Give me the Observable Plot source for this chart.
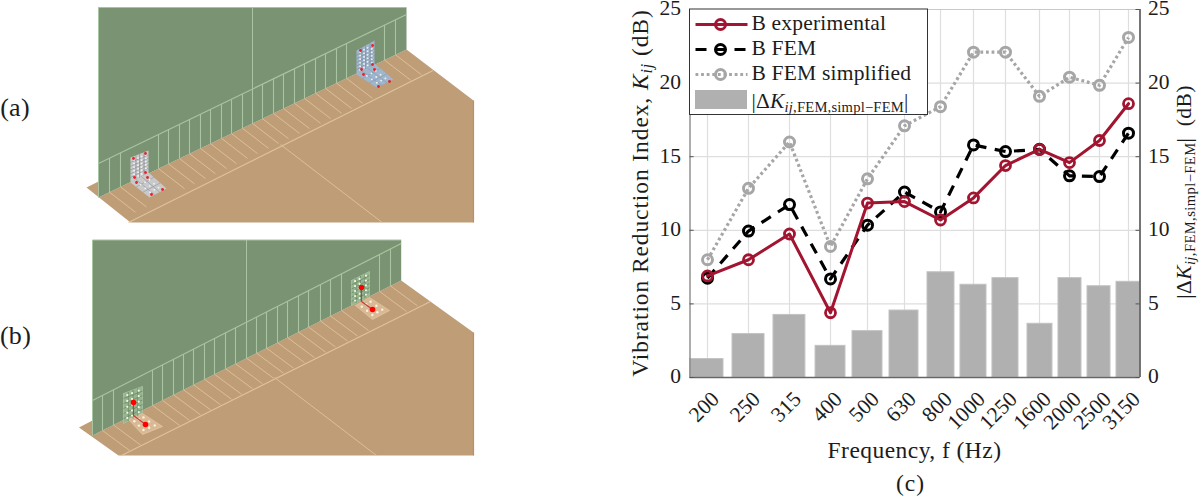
<!DOCTYPE html>
<html><head><meta charset="utf-8">
<script src="https://cdn.jsdelivr.net/npm/d3@7"></script>
<script src="https://cdn.jsdelivr.net/npm/@observablehq/plot@0.6"></script>
<style>
html,body{margin:0;padding:0;background:#fff}
#wrap{position:relative;width:1200px;height:498px;overflow:hidden}
#wrap svg{position:absolute;left:0;top:0;background:transparent;max-width:none}
</style></head><body><div id="wrap"></div>
<script>
// ---- chart data
const frequencies = [200,250,315,400,500,630,800,1000,1250,1600,2000,2500,3150];
const experimental = [6.9,8.0,9.75,4.4,11.85,11.95,10.7,12.2,14.4,15.5,14.6,16.1,18.6];
const fem = [6.75,9.95,11.75,6.7,10.35,12.6,11.25,15.8,15.35,15.5,13.7,13.65,16.6];
const simplified = [8.0,12.85,16.0,8.9,13.5,17.1,18.4,22.1,22.1,19.1,20.4,19.85,23.1];
const delta = [1.25,2.95,4.25,2.15,3.15,4.55,7.15,6.3,6.75,3.65,6.75,6.2,6.5];
const barLow = [179,230.5,289.6,369,459.5,577.3,738.6,921,1148,1476.5,1853,2300,2881];
const barHigh = [219.5,275.4,348,440.5,552.7,696,884.8,1101.6,1384,1773,2200,2747,3408];
const yTicks = [0,5,10,15,20,25];
// the reference's frequency axis is neither linear nor log: piecewise scale
const xDomain = [179,...frequencies,3408];
const xRange = [689.5,707,748,789,830,867,904,940,973,1005,1039,1069,1099,1128,1139.5];

const RED="#A2142F", GREY="#a6a6a6", INK="#1c1c1c", FONT="'Liberation Serif',serif", FS=21.5, FSL=23.5;
const DOTS="2.8 2.8", DASH="11 8.5";
const rows = frequencies.map((f,i)=>({f,exp:experimental[i],fem:fem[i],sim:simplified[i],d:delta[i],lo:barLow[i],hi:barHigh[i]}));

const chart = Plot.plot({
  width:1200,height:498,margin:0,
  x:{type:"linear",domain:xDomain,range:xRange,axis:null},
  y:{domain:[0,25],range:[377,9],axis:null},
  style:{fontFamily:FONT,background:"transparent"},
  marks:[
    Plot.ruleX(frequencies,{x:d=>d,y1:0,y2:25,stroke:"#dedede",strokeWidth:1.2}),
    Plot.ruleY(yTicks,{y:d=>d,x1:179,x2:3408,stroke:"#dedede",strokeWidth:1.2}),
    Plot.rectY(rows,{x1:"lo",x2:"hi",y1:0,y2:"d",fill:"#b0b0b0",stroke:"#c2c2c2",strokeWidth:1}),
    Plot.ruleY([25],{x1:179,x2:3408,stroke:"#c8c8c8",strokeWidth:1.2}),
    Plot.ruleY([0],{x1:179,x2:3408,stroke:"#666",strokeWidth:1.6}),
    Plot.ruleX([179],{y1:0,y2:25,stroke:"#8a8a8a",strokeWidth:1.4}),
    Plot.ruleX([3408],{y1:0,y2:25,stroke:"#666",strokeWidth:1.8}),
    Plot.ruleY(yTicks,{y:d=>d,x1:179,x2:184,stroke:"#555",strokeWidth:1}),
    Plot.ruleY(yTicks,{y:d=>d,x1:3318,x2:3408,stroke:"#555",strokeWidth:1}),
    Plot.line(rows,{x:"f",y:"sim",stroke:GREY,strokeWidth:3.2,strokeDasharray:DOTS,strokeLinecap:"butt"}),
    Plot.dot(rows,{x:"f",y:"sim",r:5,stroke:GREY,strokeWidth:3,fill:"none"}),
    Plot.line(rows,{x:"f",y:"fem",stroke:"#000",strokeWidth:3.2,strokeDasharray:DASH,strokeLinecap:"butt"}),
    Plot.dot(rows,{x:"f",y:"fem",r:5,stroke:"#000",strokeWidth:3,fill:"none"}),
    Plot.line(rows,{x:"f",y:"exp",stroke:RED,strokeWidth:3}),
    Plot.dot(rows,{x:"f",y:"exp",r:5,stroke:RED,strokeWidth:2.8,fill:"none"}),
    Plot.text(yTicks,{x:()=>179,y:d=>d,text:d=>String(d),textAnchor:"end",dx:-9,dy:-1,fontSize:FS,fill:INK,fontFamily:FONT}),
    Plot.text(yTicks,{x:()=>3408,y:d=>d,text:d=>String(d),textAnchor:"start",dx:8,dy:-1,fontSize:FS,fill:INK,fontFamily:FONT}),
    Plot.text(frequencies,{x:d=>d,y:()=>0,text:d=>String(d),rotate:-45,textAnchor:"end",lineAnchor:"middle",dx:8,dy:18,fontSize:FS,fill:INK,fontFamily:FONT})
  ]
});

// ---- illustrations, legend and free labels, on a page-sized scale
const poly=(pts,fill,stroke="none",sw=1)=>Plot.line([...pts,pts[0]],{x:d=>d[0],y:d=>d[1],fill,stroke,strokeWidth:sw});
const seg=(a,b,stroke,sw=1.1)=>Plot.line([a,b],{x:d=>d[0],y:d=>d[1],stroke,strokeWidth:sw,strokeLinecap:"butt"});
const WALL="#7a9372",WLINE="#a8c4a0",FLOOR="#bf9d77",FLINE="#dfc39c";
const mix=(a,b,t)=>[a[0]+(b[0]-a[0])*t,a[1]+(b[1]-a[1])*t];
const bil=(q,u,v)=>mix(mix(q[0],q[1],u),mix(q[3],q[2],u),v);

const stripsA=[109,120,158,168,179,189,200,210,221,231,242,252,262,273,283,294,304,315,325,336,346,384,395];
const stripsB=[102,113,152,162,173,183,193,204,214,225,235,246,256,266,277,287,298,308,320,330,341,379,390];
function scene(p){
  const base=x=>p.baseL[1]+(p.baseR[1]-p.baseL[1])*(x-p.baseL[0])/(p.baseR[0]-p.baseL[0]);
  const upper=x=>p.upL[1]+(p.upR[1]-p.upL[1])*(x-p.upL[0])/(p.upR[0]-p.upL[0]);
  const m=[
    poly(p.floor,FLOOR),
    seg(p.floor[4],p.floor[5],"#b8925f",1.2),
    poly([[p.baseL[0],p.top],[p.baseR[0],p.top],p.baseR,p.baseL],WALL),
    seg([p.baseL[0],p.top],[p.baseR[0],p.top],"#aebfa6",1.2),
    seg([p.baseL[0],p.top],p.baseL,"#a8c4a0",1),
    seg(p.upL,p.upR,WLINE,1.2),
    seg([p.tall,p.top],[p.tall,upper(p.tall)],WLINE,1),
    seg(p.parL,p.parR,FLINE,1.1),
    seg(p.diagA,p.diagB,FLINE,.9)
  ];
  for(const x of p.strips){
    m.push(seg([x,upper(x)],[x,base(x)],WLINE,1.1));
    m.push(seg([x,base(x)],[x+p.sdx,base(x)+p.sdy],FLINE,.9));
  }
  return m;
}
const sceneA=scene({top:7,baseL:[98,197],baseR:[406,49],upL:[98,163],upR:[406,14],tall:252,
  floor:[[86,187],[98,181],[98,197],[406,49],[473,100],[473,222],[130,222]],
  parL:[128,222],parR:[432.6,70],diagA:[280,144],diagB:[381.7,222],strips:stripsA,sdx:26,sdy:20});
const sceneB=scene({top:239.5,baseL:[92,435],baseR:[400.7,280],upL:[92,400],upR:[400.7,243],tall:246,
  floor:[[78.5,427],[92,420],[92,435],[400.7,280],[473,332],[473,455],[118,455]],
  parL:[121,455],parR:[430,301],diagA:[274,377],diagB:[376,455],strips:stripsB,sdx:27,sdy:20});

const plateU=[.12,.3,.5,.7,.88], plateV=[.1,.25,.4,.55,.7,.88];
function gridDots(q,fill,r,us=plateU,vs=plateV){
  const pts=[];for(const u of us)for(const v of vs)pts.push(bil(q,u,v));
  return Plot.dot(pts,{x:d=>d[0],y:d=>d[1],r,fill,stroke:"none"});
}
function gridLines(q,stroke,us,vs){
  const out=[];
  for(const u of us)out.push(seg(bil(q,u,0),bil(q,u,1),stroke,.6));
  for(const v of vs)out.push(seg(bil(q,0,v),bil(q,1,v),stroke,.6));
  return out;
}
function bracketA(up,low,col,reds){
  return [poly(up,col),poly(low,col),
    ...gridLines(up,"#7f8b95",[.3,.5,.75],[.2,.35,.5,.65,.8]),
    ...gridLines(low,"#8a97a2",[.3,.6],[.3,.65]),
    gridDots(up,"#f4f4f4",.9,[.2,.42,.62,.85],[.15,.3,.45,.6,.75,.9]),
    gridDots(low,"#f4f4f4",.9,[.25,.5,.75],[.3,.55,.8]),
    Plot.dot(reds,{x:d=>d[0],y:d=>d[1],r:1.4,fill:"#e8222a"})];
}
const redsA=[[133,158],[145,153],[134,177],[145,172],[136,182],[147,177],[151,194],[162,189]];
const bracketsA=[
  ...bracketA([[130,157],[148,150],[148,172],[130,182]],[[130,182],[148,172],[166,188],[149,197]],"#c9c9c9",redsA),
  ...bracketA([[356,50],[374,40],[374,63],[356,74]],[[356,74],[374,63],[393,79],[376,87]],"#9fb6cf",redsA.map(d=>[d[0]+227,d[1]-108]))
];
function bracketB(up,low,elbow){
  return [poly(up,"#96b58e","#a8c4a0",.8),poly(low,"#d8b994","#e2c6a2",.8),
    ...gridLines(up,"#5d7a58",[.25,.5,.75],[.17,.34,.5,.67,.84]),
    gridDots(up,"#eef6e8",1.1,[.2,.45,.8],[.1,.3,.5,.7,.88]),
    gridDots(low,"#fbf1e0",1.2,[.2,.5,.8],[.2,.5,.8]),
    Plot.line(elbow,{x:d=>d[0],y:d=>d[1],stroke:"#c43c3c",strokeWidth:1.1}),
    Plot.dot([elbow[0],elbow[2]],{x:d=>d[0],y:d=>d[1],r:2.8,fill:"#f00"})];
}
const bracketsB=[
  ...bracketB([[123,393],[142,386],[142,413],[123,423]],[[128,419],[142,413],[162,426],[142,434]],[[133,402],[133,415],[145,424]]),
  ...bracketB([[351,280],[369,271],[369,295],[351,305]],[[355,305],[369,297],[389,310],[372,319]],[[361,287],[361,301],[372,309]])
];

// legend
const legendX0=695,legendX1=747,legendMid=720,legendText=751;
const legendRows=[{y:24,c:RED,dash:null,sw:3,t:"B experimental"},{y:49,c:"#000",dash:DASH,sw:3.2,t:"B FEM"},{y:74,c:GREY,dash:DOTS,sw:3.2,t:"B FEM simplified"}];
const legendMarks=[
  Plot.rect([0],{x1:()=>689.5,x2:()=>927.5,y1:()=>9,y2:()=>114.5,fill:"#fff",stroke:"#333",strokeWidth:1}),
  ...legendRows.flatMap(r=>[
    Plot.line([[legendX0,r.y],[legendX1,r.y]],{x:d=>d[0],y:d=>d[1],stroke:r.c,strokeWidth:r.sw,strokeDasharray:r.dash||undefined,strokeLinecap:"butt"}),
    Plot.dot([[legendMid,r.y]],{x:d=>d[0],y:d=>d[1],r:5,stroke:r.c,strokeWidth:3,fill:"none"}),
    Plot.text([r.t],{x:()=>legendText,y:()=>r.y-1,text:d=>d,textAnchor:"start",fontSize:FS,fill:INK,fontFamily:FONT})
  ]),
  Plot.rect([0],{x1:()=>695,x2:()=>747,y1:()=>90,y2:()=>109,fill:"#b0b0b0"}),
  Plot.text(["@legendDelta"],{x:()=>751,y:()=>101,text:d=>d,textAnchor:"start",fontSize:FS,fill:INK,fontFamily:FONT})
];
const label=(t,x,y,o={})=>Plot.text([t],{x:()=>x,y:()=>y,text:d=>d,fontSize:FSL,fill:INK,fontFamily:FONT,...o});

const overlay=Plot.plot({
  width:1200,height:498,margin:0,
  x:{domain:[0,1200],range:[0,1200],axis:null},
  y:{domain:[0,498],range:[0,498],axis:null},
  style:{fontFamily:FONT,background:"transparent"},
  marks:[
    ...sceneA,...bracketsA,...sceneB,...bracketsB,
    ...legendMarks,
    label("(a)",14.5,107,{fontSize:26}),
    label("(b)",15,335,{fontSize:26}),
    label("(c)",910,483),
    label("Frequency, f (Hz)",914,450),
    label("@yLeft",640,192.5,{rotate:-90}),
    label("@yRight",1184,191.5,{rotate:-90,fontSize:FS})
  ]
});

// rich text: same real text, with italics and subscripts
const subIJ=[["K",{i:1}],["ij",{s:1,i:1}]];
const rich={
  "@yLeft":{fs:FSL,ls:.9,parts:[["Vibration Reduction Index, "],...subIJ,[" (dB)"]]},
  "@yRight":{fs:FS,ls:.4,parts:[["|Δ"],...subIJ,[",FEM,simpl−FEM",{s:1}],["|  (dB)"]]},
  "@legendDelta":{fs:FS,ls:.2,parts:[["|Δ"],...subIJ,[",FEM,simpl−FEM",{s:1}],["|"]]}
};
overlay.querySelectorAll("text").forEach(t=>{
  const key=t.textContent, r=rich[key];
  if(!r)return;
  t.textContent="";
  t.style.letterSpacing=r.ls+"px";
  t.style.whiteSpace="pre";
  let shifted=false;
  for(const [s,o={}] of r.parts){
    const sp=document.createElementNS("http://www.w3.org/2000/svg","tspan");
    sp.textContent=s;
    if(o.i)sp.setAttribute("font-style","italic");
    if(o.s){sp.setAttribute("font-size",r.fs*.68);if(!shifted){sp.setAttribute("dy","4");shifted=true;}}
    else if(shifted){sp.setAttribute("dy","-4");shifted=false;}
    t.appendChild(sp);
  }
});
overlay.querySelectorAll("text").forEach(t=>{
  const c=t.textContent;
  if(c.startsWith("B "))t.style.letterSpacing=".2px";
  else if(c.startsWith("Frequency"))t.style.letterSpacing=".45px";
  else if(c==="(c)")t.style.letterSpacing=".9px";
  else if(c==="(a)"||c==="(b)")t.style.letterSpacing=".3px";
});
const wrap=document.getElementById("wrap");
wrap.appendChild(chart);wrap.appendChild(overlay);
</script></body></html>
